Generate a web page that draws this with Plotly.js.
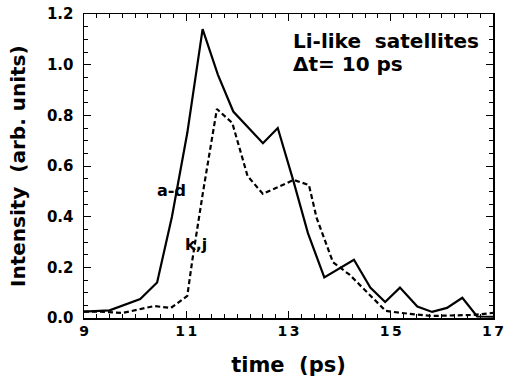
<!DOCTYPE html>
<html>
<head>
<meta charset="utf-8">
<script src="https://cdn.plot.ly/plotly-3.0.1.min.js"></script>
<style>html,body{margin:0;padding:0;background:#fff;}#chart{width:505px;height:380px;}</style>
</head>
<body>
<div id="chart"></div>
<script>
// a-d (solid)
var adTime = [9.0, 9.5, 10.1, 10.43, 10.72, 11.02, 11.32, 11.62, 11.92, 12.5, 12.79, 13.09, 13.38, 13.7, 14.28, 14.6, 14.89, 15.18, 15.52, 15.81, 16.1, 16.4, 16.69, 17.0];
var adInt  = [0.025, 0.03, 0.075, 0.14, 0.40, 0.73, 1.14, 0.96, 0.815, 0.69, 0.75, 0.545, 0.335, 0.16, 0.23, 0.12, 0.063, 0.12, 0.045, 0.024, 0.04, 0.08, 0.006, 0.005];
// k,j (dashed)
var kjTime = [9.0, 9.3, 9.76, 10.37, 10.7, 11.02, 11.12, 11.33, 11.6, 11.9, 12.2, 12.5, 13.1, 13.4, 13.55, 13.87, 14.2, 14.55, 14.9, 15.2, 15.8, 16.6, 17.0];
var kjInt  = [0.025, 0.025, 0.02, 0.047, 0.04, 0.087, 0.23, 0.5, 0.825, 0.77, 0.56, 0.49, 0.545, 0.525, 0.395, 0.22, 0.17, 0.10, 0.028, 0.02, 0.008, 0.012, 0.02];

var xTickVals = [9, 11, 13, 15, 17];
var xTickText = ['9', '1\u20061', '1\u20063', '1\u20065', '1\u20067'];
var yTickVals = [0, 0.2, 0.4, 0.6, 0.8, 1.0, 1.2];
var yTickText = ['0.0', '0.2', '0.4', '0.6', '0.8', '1.0', '1.2'];
var yTitle = 'Intensity  (arb. units)';
var xTitle = 'time  (ps)';

var fam = 'DejaVu Sans, sans-serif';
function b(s) { return '<b>' + s + '</b>'; }
var traces = [
  {x: adTime, y: adInt, mode: 'lines', line: {color: '#000', width: 2.2}, showlegend: false, hoverinfo: 'skip'},
  {x: kjTime, y: kjInt, mode: 'lines', line: {color: '#000', width: 2.2, dash: '5px,3px'}, showlegend: false, hoverinfo: 'skip'}
];
var layout = {
  width: 505, height: 380,
  margin: {l: 84, r: 12, t: 14, b: 62},
  paper_bgcolor: '#fff', plot_bgcolor: '#fff',
  font: {family: fam, color: '#000'},
  xaxis: {
    range: [9, 17], tickvals: xTickVals, ticktext: xTickText.map(b),
    ticks: 'inside', ticklen: 7, tickwidth: 1, tickcolor: '#000',
    minor: {dtick: 0.25, ticks: 'inside', ticklen: 4, tickcolor: '#000', showgrid: false},
    showline: true, linecolor: '#000', linewidth: 1.5, mirror: 'allticks',
    showgrid: false, zeroline: false, ticklabeloverflow: 'allow',
    tickfont: {size: 14, family: fam},
    title: {text: b(xTitle), font: {size: 21, family: fam}, standoff: 19}
  },
  yaxis: {
    range: [0, 1.2], tickvals: yTickVals, ticktext: yTickText.map(b),
    ticks: 'inside', ticklen: 7, tickwidth: 1, tickcolor: '#000',
    minor: {dtick: 0.05, ticks: 'inside', ticklen: 4, tickcolor: '#000', showgrid: false},
    showline: true, linecolor: '#000', linewidth: 1.5, mirror: 'allticks',
    showgrid: false, zeroline: false, ticklabelstandoff: 6, ticklabeloverflow: 'allow',
    tickfont: {size: 15, family: fam},
    title: {text: ''}
  },
  annotations: [
    {x: 0, y: 0.5, xref: 'paper', yref: 'paper', xanchor: 'center', yanchor: 'middle', xshift: -66,
     textangle: -90, showarrow: false, text: b(yTitle), font: {size: 20, family: fam}},
    {x: 13.05, y: 1.094, xref: 'x', yref: 'y', xanchor: 'left', yanchor: 'middle', showarrow: false,
     text: b('Li-like  satellites'), font: {size: 20, family: fam}},
    {x: 13.05, y: 1.003, xref: 'x', yref: 'y', xanchor: 'left', yanchor: 'middle', showarrow: false,
     text: b('\u0394t= 10 ps'), font: {size: 20, family: fam}},
    {x: 10.71, y: 0.505, xref: 'x', yref: 'y', showarrow: false,
     text: b('a-d'), font: {size: 16, family: fam}},
    {x: 11.2, y: 0.292, xref: 'x', yref: 'y', showarrow: false,
     text: b('k,j'), font: {size: 16, family: fam}}
  ]
};
Plotly.newPlot('chart', traces, layout, {staticPlot: true, displayModeBar: false});
</script>
</body>
</html>
